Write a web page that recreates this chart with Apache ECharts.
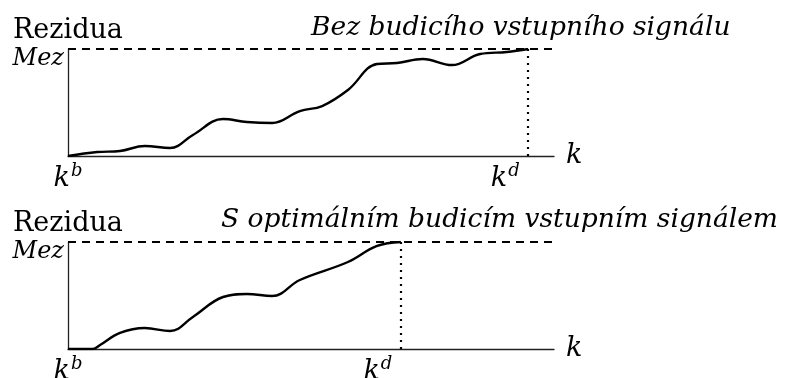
<!DOCTYPE html>
<html>
<head>
<meta charset="utf-8">
<script src="https://cdn.jsdelivr.net/npm/echarts@6/dist/echarts.min.js"></script>
<style>
  html, body { margin: 0; padding: 0; background: #fff; }
  #chart { width: 787px; height: 378px; }
</style>
</head>
<body>
<div id="chart"></div>
<script>
// Residual trajectories (k on 0..100, residual normalised so that Mez = 1)
const kTop = [0, 6, 10.7, 15.8, 21, 25.7, 31.9, 36.8, 42, 47.7, 52.3, 57.6, 63.6, 67.7, 73, 79, 84.8, 90.3, 94.7];
const rTop = [0, 0.037, 0.047, 0.093, 0.075, 0.196, 0.346, 0.318, 0.308, 0.42, 0.467, 0.617, 0.86, 0.869, 0.907, 0.85, 0.953, 0.972, 1.0];

const kBottom = [0, 5.1, 6.6, 10.7, 15.8, 21, 25.7, 31.9, 36.8, 42, 47.7, 57.6, 63.6, 68.5];
const rBottom = [0, 0, 0.037, 0.15, 0.196, 0.168, 0.3, 0.486, 0.514, 0.495, 0.645, 0.813, 0.963, 1.0];

const kdTop = 94.7;
const kdBottom = 68.5;
const limit = 1;

const titles = ['Bez budicího vstupního signálu', 'S optimálním budicím vstupním signálem'];
const yName = 'Rezidua';
const limitLabel = 'Mez';
const xName = 'k';

const SERIF = '"DejaVu Serif", "Liberation Serif", serif';
const INK = '#000';

function pairs(ks, rs) { return ks.map((k, i) => [k, rs[i]]); }

function xAxisFor(gridIndex, kd) {
  return {
    type: 'value', gridIndex, min: 0, max: 100,
    axisLine: { show: true, onZero: false, lineStyle: { color: '#222', width: 1.3 } },
    axisTick: { show: false },
    splitLine: { show: false },
    name: xName, nameLocation: 'end', nameGap: 12,
    nameTextStyle: { fontFamily: SERIF, fontStyle: 'italic', fontSize: 27, color: INK, verticalAlign: 'middle', padding: [4, 0, 0, 0] },
    axisLabel: {
      customValues: [0, kd], margin: 6,
      formatter: v => v === 0 ? '{k|k}{s|b}' : '{k|k}{s|d}{gap|}',
      rich: {
        k: { fontFamily: SERIF, fontStyle: 'italic', fontSize: 27, color: INK, verticalAlign: 'bottom', lineHeight: 30 },
        s: { fontFamily: SERIF, fontStyle: 'italic', fontSize: 18, color: INK, verticalAlign: 'top', padding: [0, 0, 13, 1], lineHeight: 30 },
        gap: { width: 46 }
      }
    }
  };
}

function yAxisFor(gridIndex) {
  return {
    type: 'value', gridIndex, min: 0, max: limit,
    axisLine: { show: true, lineStyle: { color: '#222', width: 1.3 } },
    axisTick: { show: false },
    splitLine: { show: false },
    name: yName, nameLocation: 'end', nameGap: 5,
    nameTextStyle: { fontFamily: SERIF, fontSize: 27, color: INK, align: 'center' },
    axisLabel: {
      customValues: [limit], margin: 4, verticalAlign: 'top',
      formatter: () => limitLabel,
      fontFamily: SERIF, fontStyle: 'italic', fontSize: 24, color: INK, padding: [-2, 0, 0, 0]
    }
  };
}

function seriesFor(idx, ks, rs, kd) {
  return {
    type: 'line', xAxisIndex: idx, yAxisIndex: idx,
    data: pairs(ks, rs), smooth: 0.4, showSymbol: false, silent: true,
    lineStyle: { color: INK, width: 2.4 },
    markLine: {
      silent: true, symbol: 'none', label: { show: false },
      data: [
        { yAxis: limit, lineStyle: { type: [8, 6], color: INK, width: 1.8 } },
        [
          { coord: [kd, 0], lineStyle: { type: [2, 5], color: INK, width: 2.2 } },
          { coord: [kd, limit] }
        ]
      ]
    }
  };
}

const chart = echarts.init(document.getElementById('chart'), null, { renderer: 'canvas' });
chart.setOption({
  animation: false,
  backgroundColor: '#fff',
  title: [
    { text: titles[0], left: 306, top: 10, textStyle: { fontFamily: SERIF, fontStyle: 'italic', fontWeight: 'normal', fontSize: 26.5, color: INK } },
    { text: titles[1], left: 216, top: 202, textStyle: { fontFamily: SERIF, fontStyle: 'italic', fontWeight: 'normal', fontSize: 26.5, color: INK } }
  ],
  grid: [
    { left: 68, top: 49, width: 486, height: 107, outerBoundsMode: 'none', containLabel: false },
    { left: 68, top: 242, width: 486, height: 107, outerBoundsMode: 'none', containLabel: false }
  ],
  xAxis: [xAxisFor(0, kdTop), xAxisFor(1, kdBottom)],
  yAxis: [yAxisFor(0), yAxisFor(1)],
  series: [
    seriesFor(0, kTop, rTop, kdTop),
    seriesFor(1, kBottom, rBottom, kdBottom)
  ]
});
</script>
</body>
</html>
